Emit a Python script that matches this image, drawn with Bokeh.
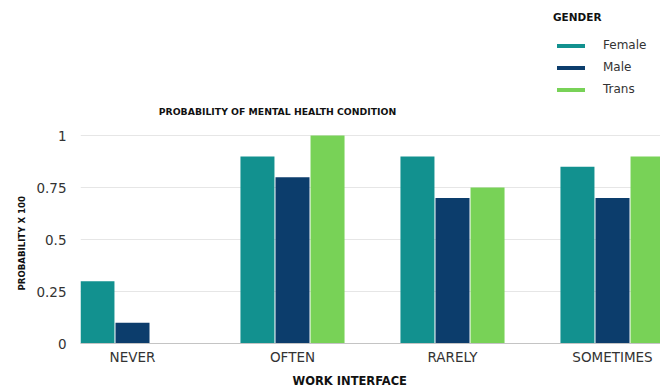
from bokeh.plotting import figure
from bokeh.models import (ColumnDataSource, Range1d, FixedTicker, Legend, LegendItem,
                          Title, Label, NumeralTickFormatter)
from bokeh.transform import dodge
from bokeh.embed import file_html
from bokeh.resources import INLINE

categories = ["NEVER", "OFTEN", "RARELY", "SOMETIMES"]
female = [0.30, 0.90, 0.90, 0.85]
male = [0.10, 0.80, 0.70, 0.70]
trans = [0.0, 1.00, 0.75, 0.90]
y_ticks = [0, 0.25, 0.5, 0.75, 1]
series_names = ["Female", "Male", "Trans"]
colors = ["#12918f", "#0c3d6c", "#78d257"]

xpos = [i + 0.5 for i in range(len(categories))]
src = ColumnDataSource(dict(x=xpos, cat=categories, Female=female, Male=male, Trans=trans))

FONT = "DejaVu Sans"

# tall frame: the upper (empty) part of the frame holds the title and the legend
p = figure(frame_width=580, frame_height=343, output_backend="svg", toolbar_location=None,
           x_range=Range1d(0.175, 3.8), y_range=Range1d(0, 1.65),
           min_border_left=80, min_border_right=0, min_border_top=0,
           min_border_bottom=40)
p.outline_line_color = None
p.background_fill_color = "white"
p.border_fill_color = "white"

offsets = [-0.219, 0.0, 0.219]
renderers = []
for name, col, off in zip(series_names, colors, offsets):
    r = p.vbar(x=dodge("x", off, range=p.x_range), top=name, width=0.2125,
               source=src, fill_color=col, line_color=None)
    renderers.append(r)

# x axis
p.xaxis.ticker = FixedTicker(ticks=xpos)
p.xaxis.major_label_overrides = {x: c for x, c in zip(xpos, categories)}
p.xaxis.axis_line_color = "#c4c4c4"
p.xaxis.major_tick_line_color = None
p.xaxis.major_tick_out = 0
p.xaxis.major_tick_in = 0
p.xaxis.minor_tick_line_color = None
p.xaxis.major_label_standoff = 5
p.xaxis.major_label_text_font = FONT
p.xaxis.major_label_text_font_size = "13.5px"
p.xaxis.major_label_text_color = "#333333"

# y axis
p.yaxis.ticker = FixedTicker(ticks=y_ticks)
p.yaxis.formatter = NumeralTickFormatter(format="0.[00]")
p.yaxis.axis_line_color = None
p.yaxis.major_tick_line_color = None
p.yaxis.major_tick_out = 0
p.yaxis.major_tick_in = 0
p.yaxis.minor_tick_line_color = None
p.yaxis.major_label_standoff = 14
p.yaxis.major_label_text_font = FONT
p.yaxis.major_label_text_font_size = "13.5px"
p.yaxis.major_label_text_color = "#333333"

p.xgrid.grid_line_color = None
p.ygrid.grid_line_color = "#e6e6e6"
p.ygrid.grid_line_width = 1

# y axis title (left panel, starting above the frame bottom)
p.add_layout(Title(text="PROBABILITY X 100", align="left", offset=53,
                   text_font=FONT, text_font_style="bold", text_font_size="8.6px",
                   text_color="#111111", standoff=13), "left")

# chart title
p.add_layout(Label(x=1.406, y=1.115, text="PROBABILITY OF MENTAL HEALTH CONDITION",
                   text_font=FONT, text_font_style="bold", text_font_size="9.3px",
                   text_color="#111111", text_align="center", text_baseline="middle"))

# x axis title (below the axis)
p.add_layout(Title(text="WORK INTERFACE", align="left", offset=212,
                   text_font=FONT, text_font_style="bold", text_font_size="11.5px",
                   text_color="#111111", standoff=8), "below")

legend = Legend(items=[LegendItem(label=n, renderers=[r]) for n, r in zip(series_names, renderers)],
                location=(473, 247), title="GENDER",
                title_text_font=FONT, title_text_font_style="bold", title_text_font_size="10.5px",
                title_text_color="#111111", title_standoff=15,
                label_text_font=FONT, label_text_font_size="12px", label_text_color="#333333",
                glyph_width=35, glyph_height=5, label_height=14, spacing=8,
                label_standoff=15, padding=0, margin=0,
                border_line_color=None, background_fill_alpha=0)
p.add_layout(legend, "center")

open("out.html", "w").write(file_html(p, INLINE))
